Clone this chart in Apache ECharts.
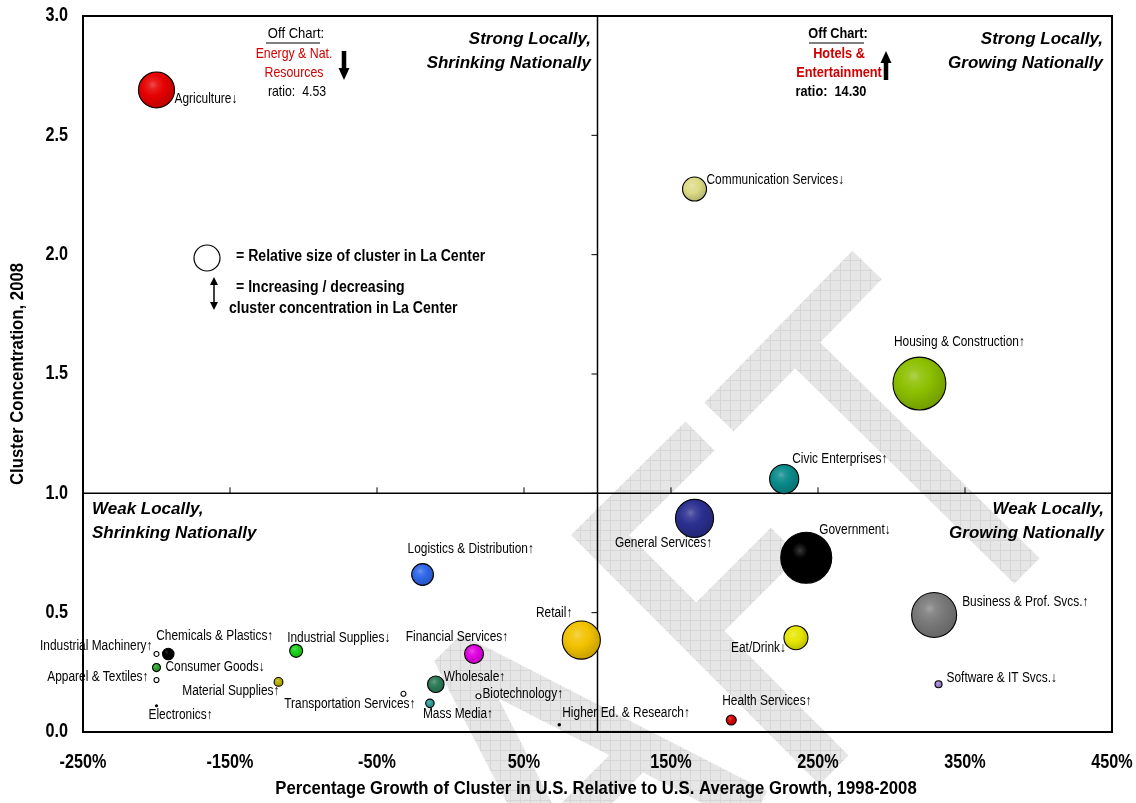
<!DOCTYPE html>
<html>
<head>
<meta charset="utf-8">
<script src="https://cdn.jsdelivr.net/npm/echarts@6/dist/echarts.min.js"></script>
<style>
  html, body { margin: 0; padding: 0; background: #ffffff; }
  #chart { width: 1136px; height: 803px; }
</style>
</head>
<body>
<div id="chart"></div>
<script>
// ---- Cluster data -------------------------------------------------------
const clusters = [
  'Agriculture', 'Communication Services', 'Housing & Construction', 'Civic Enterprises',
  'General Services', 'Government', 'Business & Prof. Svcs.', 'Eat/Drink',
  'Software & IT Svcs.', 'Health Services', 'Retail', 'Higher Ed. & Research',
  'Logistics & Distribution', 'Financial Services', 'Wholesale', 'Biotechnology',
  'Mass Media', 'Transportation Services', 'Industrial Supplies', 'Material Supplies',
  'Chemicals & Plastics', 'Industrial Machinery', 'Consumer Goods', 'Apparel & Textiles',
  'Electronics'
];
// % growth of the cluster in the U.S. relative to average U.S. growth, 1998-2008
const usGrowthPct = [
  -200, 166, 319, 227,
  166, 242, 329, 235,
  332, 191, 89, 74,
  -19, 16, -10, 19,
  -14, -32, -105, -117,
  -192, -200, -200, -200,
  -200
];
// Cluster concentration (location quotient), 2008
const concentration2008 = [
  2.69, 2.275, 1.46, 1.06,
  0.895, 0.73, 0.49, 0.395,
  0.20, 0.05, 0.385, 0.03,
  0.66, 0.327, 0.20, 0.15,
  0.12, 0.16, 0.34, 0.21,
  0.327, 0.327, 0.27, 0.218,
  0.11
];
// Relative size of the cluster in La Center
const clusterSize = [
  52, 23, 112, 34,
  58, 104, 81, 23,
  2, 4, 58, 0.5,
  19, 14.4, 11, 1,
  2.9, 1, 6.8, 3.1,
  5.3, 1, 2.6, 1,
  0.4
];
// Direction of the local concentration: 1 increasing, -1 decreasing
const concentrationTrend = [
  -1, -1, 1, 1,
  1, -1, 1, -1,
  -1, 1, 1, 1,
  1, 1, 1, 1,
  1, 1, -1, 1,
  1, 1, -1, 1,
  1
];
const xTickValues = [-250, -150, -50, 50, 150, 250, 350, 450];
const yTickValues = [0, 0.5, 1.0, 1.5, 2.0, 2.5, 3.0];
const quadrantSplit = [100, 1.0];

// Off-chart clusters
const offChart = [
  { name: 'Energy & Nat.\nResources', ratio: '4.53', trend: -1 },
  { name: 'Hotels &\nEntertainment', ratio: '14.30', trend: 1 }
];

// ---- Styling ------------------------------------------------------------
const SANS = "'Liberation Sans', Arial, 'DejaVu Sans', sans-serif";
const NARROW_SCALE = 0.85;   // Arial-metric face squeezed to a narrow cut

const clusterColors = {
  'Agriculture': '#e60000',
  'Communication Services': '#dcdc86',
  'Housing & Construction': '#8cbf00',
  'Civic Enterprises': '#0a8a8a',
  'General Services': '#2b2f8f',
  'Government': '#000000',
  'Business & Prof. Svcs.': '#7a7a7a',
  'Eat/Drink': '#e6e600',
  'Software & IT Svcs.': '#9b7fd0',
  'Health Services': '#d40000',
  'Retail': '#f2c200',
  'Higher Ed. & Research': '#000000',
  'Logistics & Distribution': '#2f66e8',
  'Financial Services': '#e000e0',
  'Wholesale': '#2a7a55',
  'Biotechnology': '#ffffff',
  'Mass Media': '#2a9a9a',
  'Transportation Services': '#ffffff',
  'Industrial Supplies': '#19d019',
  'Material Supplies': '#b8b000',
  'Chemicals & Plastics': '#000000',
  'Industrial Machinery': '#ffffff',
  'Consumer Goods': '#2aa02a',
  'Apparel & Textiles': '#ffffff',
  'Electronics': '#000000'
};

// Label anchor relative to bubble centre: [align, dx, dy]
const labelPlacement = {
  'Agriculture': ['left', 18, 9],
  'Communication Services': ['left', 12, -9],
  'Housing & Construction': ['center', 40, -41],
  'Civic Enterprises': ['left', 8, -20],
  'General Services': ['center', -31, 25],
  'Government': ['left', 13, -28],
  'Business & Prof. Svcs.': ['left', 28, -13],
  'Eat/Drink': ['right', -10, 10],
  'Software & IT Svcs.': ['left', 8, -6],
  'Health Services': ['left', -9, -19],
  'Retail': ['right', -9, -27],
  'Higher Ed. & Research': ['left', 3, -12],
  'Logistics & Distribution': ['left', -15, -25],
  'Financial Services': ['center', -17, -17],
  'Wholesale': ['left', 8, -7],
  'Biotechnology': ['left', 4, -2],
  'Mass Media': ['left', -7, 11],
  'Transportation Services': ['right', 12, 10],
  'Industrial Supplies': ['left', -9, -13],
  'Material Supplies': ['right', 1, 9],
  'Chemicals & Plastics': ['left', -12, -18],
  'Industrial Machinery': ['right', -4, -8],
  'Consumer Goods': ['left', 9, 0],
  'Apparel & Textiles': ['right', -8, -3],
  'Electronics': ['left', -8, 9]
};

function mix(hex, target, t) {
  const a = parseInt(hex.slice(1), 16), b = parseInt(target.slice(1), 16);
  const ch = (v, s) => (v >> s) & 255;
  const r = Math.round(ch(a, 16) + (ch(b, 16) - ch(a, 16)) * t);
  const g = Math.round(ch(a, 8) + (ch(b, 8) - ch(a, 8)) * t);
  const bl = Math.round(ch(a, 0) + (ch(b, 0) - ch(a, 0)) * t);
  return 'rgb(' + r + ',' + g + ',' + bl + ')';
}

function bubbleFill(hex) {
  if (hex === '#ffffff') return '#ffffff';
  if (hex === '#000000') {
    return {
      type: 'radial', x: 0.38, y: 0.36, r: 0.5,
      colorStops: [
        { offset: 0, color: '#3a3a3a' },
        { offset: 0.14, color: '#1c1c1c' },
        { offset: 0.3, color: '#000000' },
        { offset: 1, color: '#000000' }
      ]
    };
  }
  return {
    type: 'radial', x: 0.4, y: 0.36, r: 0.68,
    colorStops: [
      { offset: 0, color: mix(hex, '#ffffff', 0.3) },
      { offset: 0.18, color: mix(hex, '#ffffff', 0.12) },
      { offset: 0.45, color: hex },
      { offset: 1, color: mix(hex, '#000000', 0.2) }
    ]
  };
}

const sizeToDiameter = v => 5 * Math.sqrt(v);

const bubbleData = clusters.map((name, i) => ({
  name: name,
  value: [usGrowthPct[i], concentration2008[i], clusterSize[i]],
  symbolSize: sizeToDiameter(clusterSize[i]),
  itemStyle: {
    color: bubbleFill(clusterColors[name]),
    borderColor: '#000000',
    borderWidth: clusterSize[i] < 1 ? 0 : 1.1,
    opacity: 1
  }
})).sort((a, b) => b.value[2] - a.value[2]);

const labelData = clusters.map((name, i) => [usGrowthPct[i], concentration2008[i], i]);

// ---- Chart --------------------------------------------------------------
const chart = echarts.init(document.getElementById('chart'), null, { renderer: 'canvas' });

const arrowShape = (x, yTop, yBottom, up) => {
  const headH = 12, shaftW = 4.5, headW = 11;
  const pts = up
    ? [[x, yTop], [x + headW / 2, yTop + headH], [x + shaftW / 2, yTop + headH], [x + shaftW / 2, yBottom],
       [x - shaftW / 2, yBottom], [x - shaftW / 2, yTop + headH], [x - headW / 2, yTop + headH]]
    : [[x, yBottom], [x + headW / 2, yBottom - headH], [x + shaftW / 2, yBottom - headH], [x + shaftW / 2, yTop],
       [x - shaftW / 2, yTop], [x - shaftW / 2, yBottom - headH], [x - headW / 2, yBottom - headH]];
  return { type: 'polygon', shape: { points: pts }, style: { fill: '#000000' } };
};

// Narrow text: an Arial-metric face compressed horizontally around its anchor
const txt = (x, y, text, opt, scale) => ({
  type: 'text', x: x, y: y,
  scaleX: scale === undefined ? NARROW_SCALE : scale,
  style: Object.assign({
    text: text, fill: '#000000', fontFamily: SANS, fontSize: 14,
    align: 'left', verticalAlign: 'middle'
  }, opt || {})
});

// Pale cross-hatched background stamp (large diagonal lettering behind the plot)
const hatchCanvas = document.createElement('canvas');
hatchCanvas.width = 10;
hatchCanvas.height = 10;
(function () {
  const hc = hatchCanvas.getContext('2d');
  hc.fillStyle = '#e6e6e6';
  hc.fillRect(0, 0, 10, 10);
  hc.fillStyle = '#d6d6d6';
  hc.fillRect(0, 0, 10, 1);
  hc.fillRect(0, 0, 1, 10);
})();
const hatch = { image: hatchCanvas, repeat: 'repeat' };
const stampStyle = w => ({ stroke: hatch, lineWidth: w, fill: null, lineCap: 'butt' });
const stamp = [
  // letter A
  { type: 'polyline', z: -1, shape: { points: [[609, 958], [452, 652], [758, 809]] },
    style: Object.assign(stampStyle(40), { lineJoin: 'bevel' }) },
  { type: 'line', z: -1, shape: { x1: 641, y1: 749, x2: 549, y2: 841 }, style: stampStyle(36) },
  // letter F
  { type: 'polyline', z: -1, shape: { points: [[700, 436], [600, 535], [834, 770]] },
    style: Object.assign(stampStyle(41), { lineJoin: 'miter' }) },
  { type: 'line', z: -1, shape: { x1: 690, y1: 637, x2: 785, y2: 542 }, style: stampStyle(40) },
  // letter T
  { type: 'line', z: -1, shape: { x1: 719, y1: 417, x2: 867, y2: 265 }, style: stampStyle(41) },
  { type: 'line', z: -1, shape: { x1: 793, y1: 341, x2: 1027, y2: 571 }, style: stampStyle(36) }
];

const quadrantFont = { fontFamily: SANS, fontSize: 17, fontWeight: 'bold', fontStyle: 'italic', lineHeight: 24 };

const graphics = stamp.concat([
  // Quadrant captions
  txt(591, 51, 'Strong Locally,\nShrinking Nationally', Object.assign({ align: 'right' }, quadrantFont), 1),
  txt(1103, 51, 'Strong Locally,\nGrowing Nationally', Object.assign({ align: 'right' }, quadrantFont), 1),
  txt(92, 521, 'Weak Locally,\nShrinking Nationally', Object.assign({ align: 'left' }, quadrantFont), 1),
  txt(1104, 521, 'Weak Locally,\nGrowing Nationally', Object.assign({ align: 'right' }, quadrantFont), 1),

  // Off-chart: decreasing cluster
  txt(296, 34, 'Off Chart:', { align: 'center', fontSize: 14.5 }, 0.9),
  { type: 'line', shape: { x1: 266, y1: 43, x2: 320, y2: 43 }, style: { stroke: '#000', lineWidth: 1 } },
  txt(294, 63.5, offChart[0].name, { align: 'center', fontSize: 14.5, fill: '#d00000', lineHeight: 19.5 }),
  txt(297, 92, 'ratio:  ' + offChart[0].ratio, { align: 'center', fontSize: 14.5 }),
  arrowShape(344, 51, 80, offChart[0].trend > 0),

  // Off-chart: increasing cluster
  txt(838, 34, 'Off Chart:', { align: 'center', fontSize: 15, fontWeight: 'bold' }),
  { type: 'line', shape: { x1: 809, y1: 43, x2: 864, y2: 43 }, style: { stroke: '#000', lineWidth: 1 } },
  txt(839, 63.5, offChart[1].name, { align: 'center', fontSize: 15, fontWeight: 'bold', fill: '#d00000', lineHeight: 19.5 }),
  txt(831, 92, 'ratio:  ' + offChart[1].ratio, { align: 'center', fontSize: 15, fontWeight: 'bold' }),
  arrowShape(886, 51, 80, offChart[1].trend > 0),

  // Key
  { type: 'circle', shape: { cx: 207, cy: 258, r: 13 }, style: { fill: '#ffffff', stroke: '#000', lineWidth: 1.2 } },
  txt(236, 257, '= Relative size of cluster in La Center', { fontWeight: 'bold', fontSize: 16 }, 0.88),
  { type: 'line', shape: { x1: 214, y1: 283, x2: 214, y2: 303 }, style: { stroke: '#000', lineWidth: 1.5 } },
  { type: 'polygon', shape: { points: [[210, 285], [214, 277], [218, 285]] }, style: { fill: '#000' } },
  { type: 'polygon', shape: { points: [[210, 302], [214, 310], [218, 302]] }, style: { fill: '#000' } },
  txt(236, 288, '= Increasing / decreasing', { fontWeight: 'bold', fontSize: 16 }, 0.88),
  txt(229, 309, 'cluster concentration in La Center', { fontWeight: 'bold', fontSize: 16 }, 0.88),

  // Axis titles
  txt(596, 789, 'Percentage Growth of Cluster in U.S. Relative to U.S. Average Growth, 1998-2008',
      { align: 'center', fontWeight: 'bold', fontSize: 19 }, 0.88),
  Object.assign(txt(18, 374, 'Cluster Concentration, 2008', { align: 'center', fontWeight: 'bold', fontSize: 19 }, 0.88),
      { rotation: Math.PI / 2 })
]);

const option = {
  backgroundColor: '#ffffff',
  animation: false,
  grid: {
    left: 83, right: 24, top: 16, bottom: 71,
    show: true, borderColor: '#000000', borderWidth: 2, backgroundColor: 'transparent'
  },
  xAxis: {
    type: 'value', min: -250, max: 450, interval: 100,
    axisLine: { show: false }, axisTick: { show: false }, splitLine: { show: false },
    axisLabel: { show: false }
  },
  yAxis: {
    type: 'value', min: 0, max: 3, interval: 0.5,
    axisLine: { show: false }, axisTick: { show: false }, splitLine: { show: false },
    axisLabel: { show: false }
  },
  graphic: graphics,
  series: [
    {
      // Quadrant dividers with tick marks, plus the tick labels along the frame
      type: 'custom',
      silent: true,
      z: 1,
      data: [quadrantSplit],
      renderItem: function (params, api) {
        const sx = api.value(0), sy = api.value(1);
        const children = [];
        const line = (a, b, w) => ({
          type: 'line',
          shape: { x1: a[0], y1: a[1], x2: b[0], y2: b[1] },
          style: { stroke: '#000000', lineWidth: w }
        });
        const tickText = (p, text, align) => ({
          type: 'text', x: p[0], y: p[1], scaleX: 0.83,
          style: {
            text: text, fill: '#000000', fontFamily: SANS, fontSize: 19.5, fontWeight: 'bold',
            align: align, verticalAlign: 'middle'
          }
        });
        const yMin = yTickValues[0], yMax = yTickValues[yTickValues.length - 1];
        const xMin = xTickValues[0], xMax = xTickValues[xTickValues.length - 1];
        children.push(line(api.coord([sx, yMax]), api.coord([sx, yMin]), 1.5));
        children.push(line(api.coord([xMin, sy]), api.coord([xMax, sy]), 1.5));
        xTickValues.forEach(v => {
          const p = api.coord([v, sy]);
          children.push(line([p[0], p[1]], [p[0], p[1] - 6], 1));
          const b = api.coord([v, yMin]);
          children.push(tickText([b[0], b[1] + 31], v + '%', 'center'));
        });
        yTickValues.forEach(v => {
          const p = api.coord([sx, v]);
          children.push(line([p[0], p[1]], [p[0] - 6, p[1]], 1));
          const l = api.coord([xMin, v]);
          children.push(tickText([l[0] - 15, l[1]], v.toFixed(1), 'right'));
        });
        return { type: 'group', children: children };
      }
    },
    {
      type: 'scatter',
      z: 3,
      data: bubbleData,
      emphasis: { disabled: true }
    },
    {
      // Cluster names with their concentration-trend arrows
      type: 'custom',
      silent: true,
      z: 4,
      data: labelData,
      renderItem: function (params, api) {
        const i = api.value(2);
        const name = clusters[i];
        const place = labelPlacement[name];
        const p = api.coord([api.value(0), api.value(1)]);
        return {
          type: 'text', x: p[0] + place[1], y: p[1] + place[2], scaleX: NARROW_SCALE,
          style: {
            text: name + (concentrationTrend[i] > 0 ? '\u2191' : '\u2193'),
            fill: '#000000', fontFamily: SANS, fontSize: 14,
            align: place[0], verticalAlign: 'middle'
          }
        };
      }
    }
  ]
};

chart.setOption(option);
</script>
</body>
</html>
